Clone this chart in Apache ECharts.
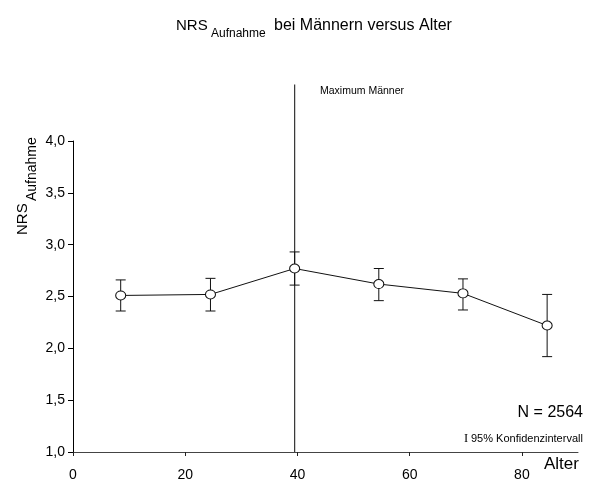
<!DOCTYPE html>
<html>
<head>
<meta charset="utf-8">
<script src="https://cdn.jsdelivr.net/npm/echarts@6/dist/echarts.min.js"></script>
<style>html,body{margin:0;padding:0;background:#fff}#c{width:590px;height:479px}</style>
</head>
<body>
<div id="c"></div>
<script>
// Data
var ages = [8.5, 24.5, 39.5, 54.5, 69.5, 84.5];
var nrsMean = [2.51, 2.52, 2.77, 2.62, 2.53, 2.22];
var ciLow = [2.36, 2.36, 2.61, 2.46, 2.37, 1.92];
var ciHigh = [2.66, 2.675, 2.93, 2.77, 2.67, 2.52];
var maxAge = 39.5;
var maxLineTop = 4.545;
var xTicks = [0, 20, 40, 60, 80];

var FONT = '"Liberation Sans", Arial, sans-serif';
var chart = echarts.init(document.getElementById('c'), null, {renderer: 'canvas'});

var lineData = ages.map(function (a, i) { return [a, nrsMean[i]]; });
var errData = ages.map(function (a, i) { return [a, ciLow[i], ciHigh[i]]; });

function txt(x, y, s, size, extra) {
  var st = {text: s, fontFamily: FONT, fontSize: size, fill: '#000', verticalAlign: 'top'};
  if (extra) { for (var k in extra) st[k] = extra[k]; }
  return {type: 'text', x: x, y: y, style: st};
}

var option = {
  backgroundColor: '#fff',
  animation: false,
  grid: {left: 73, right: 12, top: 141, bottom: 27, containLabel: false, outerBoundsMode: 'none'},
  xAxis: {
    type: 'value', min: 0, max: 90, interval: 20,
    axisLine: {show: true, lineStyle: {color: '#444', width: 1}},
    axisTick: {show: true, length: 4, customValues: xTicks, lineStyle: {color: '#222'}},
    axisLabel: {customValues: xTicks, color: '#000', fontFamily: FONT, fontSize: 14, margin: 16.5},
    splitLine: {show: false}
  },
  yAxis: {
    type: 'value', min: 1, max: 4, interval: 0.5,
    axisLine: {show: true, lineStyle: {color: '#000', width: 1}},
    axisTick: {show: true, length: 5, lineStyle: {color: '#000'}},
    axisLabel: {
      color: '#000', fontFamily: FONT, fontSize: 14, margin: 8,
      formatter: function (v) { return v.toFixed(1).replace('.', ','); }
    },
    splitLine: {show: false}
  },
  series: [
    {
      type: 'custom',
      clip: false,
      z: 1,
      data: [[maxAge, 1, maxLineTop]],
      renderItem: function (params, api) {
        var p0 = api.coord([api.value(0), api.value(1)]);
        var p1 = api.coord([api.value(0), api.value(2)]);
        return {
          type: 'line',
          shape: {x1: p0[0], y1: p0[1], x2: p1[0], y2: p1[1]},
          style: {stroke: '#333', lineWidth: 1.2}
        };
      }
    },
    {
      type: 'custom',
      z: 2,
      clip: false,
      data: errData,
      renderItem: function (params, api) {
        var x = api.value(0);
        var lo = api.coord([x, api.value(1)]);
        var hi = api.coord([x, api.value(2)]);
        var w = 5;
        var st = {stroke: '#111', lineWidth: 1};
        return {
          type: 'group',
          children: [
            {type: 'line', shape: {x1: lo[0], y1: lo[1], x2: hi[0], y2: hi[1]}, style: st},
            {type: 'line', shape: {x1: lo[0] - w, y1: lo[1], x2: lo[0] + w, y2: lo[1]}, style: st},
            {type: 'line', shape: {x1: hi[0] - w, y1: hi[1], x2: hi[0] + w, y2: hi[1]}, style: st}
          ]
        };
      }
    },
    {
      type: 'line',
      z: 3,
      data: lineData,
      symbol: 'circle',
      symbolSize: [10, 9],
      lineStyle: {color: '#111', width: 1},
      itemStyle: {color: '#fff', borderColor: '#111', borderWidth: 1},
      emphasis: {disabled: true}
    }
  ],
  graphic: [
    txt(176, 18, 'NRS', 15),
    txt(211, 27.5, 'Aufnahme', 12),
    txt(274, 17.5, 'bei Männern versus Alter', 16, {letterSpacing: 0.6}),
    {
      type: 'group', x: 15.5, y: 235, rotation: Math.PI / 2,
      children: [
        txt(0, 0, 'NRS', 15),
        txt(34, 9.5, 'Aufnahme', 14, {letterSpacing: -0.2})
      ]
    },
    txt(320, 86, 'Maximum Männer', 10.5, {letterSpacing: -0.6}),
    txt(583, 405, 'N = 2564', 16, {align: 'right'}),
    txt(464, 432, 'I', 12.5, {fontFamily: '"Liberation Serif", "Times New Roman", serif'}),
    txt(471, 433, '95% Konfidenzintervall', 11, {letterSpacing: -0.1}),
    txt(544, 456, 'Alter', 17)
  ]
};
chart.setOption(option);
</script>
</body>
</html>
